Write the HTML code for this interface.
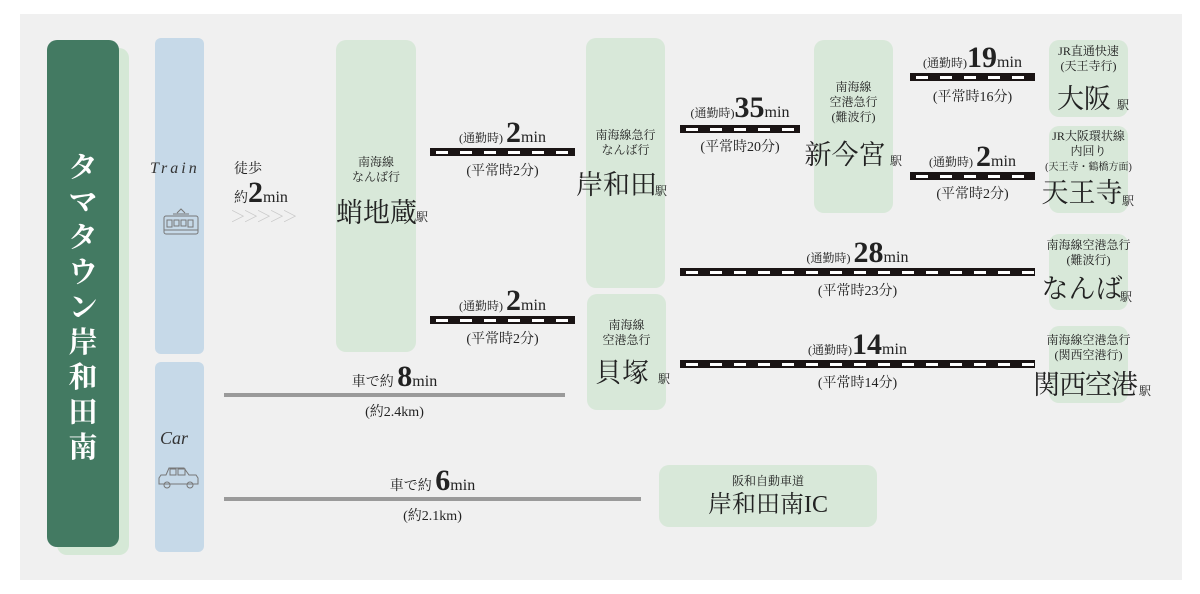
<!DOCTYPE html>
<html><head><meta charset="utf-8">
<style>
*{margin:0;padding:0;box-sizing:border-box}
body{width:1200px;height:594px;background:#fff;position:relative;overflow:hidden;font-family:"Liberation Serif","Noto Serif CJK SC","Noto Sans CJK JP",serif;color:#222}
.a{position:absolute}
.bg{left:20px;top:14px;width:1162px;height:566px;background:#f0f0f0}
.g{background:#d8e8d9;border-radius:10px;position:absolute}
.b{background:#c6d9e8;border-radius:6px;position:absolute}
.rail{position:absolute;height:8px;background:#1a1414}
.rail:after{content:"";position:absolute;left:0;right:0;top:2.5px;height:3px;background:repeating-linear-gradient(90deg,transparent 0 6px,#fff 6px 18px,transparent 18px 24px)}
.road{position:absolute;height:4px;background:#9a9a9a}
.c{position:absolute;text-align:center;white-space:nowrap}
.s{font-size:12px;line-height:15px}
.n{font-size:27px;line-height:30px}
.ek{font-size:12px}
.t{font-size:14px}
.big{font-size:30px;font-weight:bold;font-family:"Liberation Serif",serif}
.min{font-size:16px}
</style></head><body>
<div class="a bg"></div>
<div class="a" style="left:57px;top:48px;width:72px;height:507px;background:#d5e8d6;border-radius:10px"></div>
<div class="a" style="left:47px;top:40px;width:72px;height:507px;background:#437a62;border-radius:10px"></div>
<div class="c" style="left:47px;top:148px;width:72px;color:#fff;font-size:29px;line-height:35px;white-space:normal;padding:0 21px;font-weight:bold;font-family:'Noto Serif CJK SC','Noto Sans CJK JP',serif">タマタウン岸和田南</div>

<div class="b" style="left:155px;top:38px;width:49px;height:316px"></div>
<div class="b" style="left:155px;top:362px;width:49px;height:190px"></div>
<div class="c" style="left:150px;top:160px;font-family:'Liberation Serif',serif;font-style:italic;font-size:16px;letter-spacing:3px;color:#333">Train</div>
<svg class="a" style="left:163px;top:208px" width="36" height="30" viewBox="0 0 36 30" fill="none" stroke="#777" stroke-width="1"><path d="M14 5l4-4 4 4M10 6h16"/><rect x="1" y="8" width="34" height="18" rx="2"/><rect x="4" y="12" width="5" height="7"/><rect x="11" y="12" width="5" height="6"/><rect x="18" y="12" width="5" height="6"/><rect x="25" y="12" width="5" height="7"/><path d="M1 22h34"/></svg>
<div class="c" style="left:160px;top:428px;font-style:italic;font-size:18px;color:#333">Car</div>
<svg class="a" style="left:158px;top:466px" width="42" height="24" viewBox="0 0 42 24" fill="none" stroke="#777" stroke-width="1"><path d="M8 9l3-7h15l5 7h7l2 3v6H1v-6l2-3z"/><rect x="12" y="3" width="6" height="6"/><rect x="20" y="3" width="7" height="6"/><circle cx="9" cy="19" r="3"/><circle cx="32" cy="19" r="3"/></svg>

<div class="c t" style="left:234px;top:158px">徒歩</div>
<div class="c t" style="left:234px;top:176px">約<span class="big">2</span><span class="min">min</span></div>
<div class="c" style="left:230px;top:204px;color:#c8c8c8;font-size:16px;letter-spacing:-3px">＞＞＞＞＞</div>

<div class="g" style="left:336px;top:40px;width:80px;height:312px"></div>
<div class="c s" style="left:336px;top:155px;width:80px">南海線<br>なんば行</div>
<div class="c n" style="left:336px;top:198px;width:80px">蛸地蔵</div><div class="c ek" style="left:416px;top:208px">駅</div>

<div class="rail" style="left:430px;top:148px;width:145px"></div>
<div class="c" style="left:430px;top:116px;width:145px"><span class="s">(通勤時) </span><span class="big">2</span><span class="min">min</span></div>
<div class="c t" style="left:430px;top:160px;width:145px">(平常時2分)</div>
<div class="rail" style="left:430px;top:316px;width:145px"></div>
<div class="c" style="left:430px;top:284px;width:145px"><span class="s">(通勤時) </span><span class="big">2</span><span class="min">min</span></div>
<div class="c t" style="left:430px;top:328px;width:145px">(平常時2分)</div>

<div class="road" style="left:224px;top:393px;width:341px"></div>
<div class="c" style="left:224px;top:360px;width:341px"><span class="t">車で約 </span><span class="big">8</span><span class="min">min</span></div>
<div class="c t" style="left:224px;top:401px;width:341px">(約2.4km)</div>
<div class="road" style="left:224px;top:497px;width:417px"></div>
<div class="c" style="left:224px;top:464px;width:417px"><span class="t">車で約 </span><span class="big">6</span><span class="min">min</span></div>
<div class="c t" style="left:224px;top:505px;width:417px">(約2.1km)</div>

<div class="g" style="left:586px;top:38px;width:79px;height:250px"></div>
<div class="c s" style="left:586px;top:128px;width:79px">南海線急行<br>なんば行</div>
<div class="c n" style="left:576px;top:170px;width:79px">岸和田</div><div class="c ek" style="left:655px;top:182px">駅</div>
<div class="g" style="left:587px;top:294px;width:79px;height:116px"></div>
<div class="c s" style="left:587px;top:318px;width:79px">南海線<br>空港急行</div>
<div class="c n" style="left:587px;top:358px;width:70px">貝塚</div><div class="c ek" style="left:658px;top:370px">駅</div>

<div class="rail" style="left:680px;top:125px;width:120px"></div>
<div class="c" style="left:680px;top:91px;width:120px"><span class="s">(通勤時)</span><span class="big">35</span><span class="min">min</span></div>
<div class="c t" style="left:680px;top:136px;width:120px">(平常時20分)</div>

<div class="g" style="left:814px;top:40px;width:79px;height:173px"></div>
<div class="c s" style="left:814px;top:80px;width:79px">南海線<br>空港急行<br>(難波行)</div>
<div class="c n" style="left:800px;top:140px;width:90px">新今宮</div><div class="c ek" style="left:890px;top:152px">駅</div>

<div class="rail" style="left:910px;top:73px;width:125px"></div>
<div class="c" style="left:910px;top:41px;width:125px"><span class="s">(通勤時)</span><span class="big">19</span><span class="min">min</span></div>
<div class="c t" style="left:910px;top:86px;width:125px">(平常時16分)</div>
<div class="rail" style="left:910px;top:172px;width:125px"></div>
<div class="c" style="left:910px;top:140px;width:125px"><span class="s">(通勤時) </span><span class="big">2</span><span class="min">min</span></div>
<div class="c t" style="left:910px;top:183px;width:125px">(平常時2分)</div>

<div class="rail" style="left:680px;top:268px;width:355px"></div>
<div class="c" style="left:680px;top:236px;width:355px"><span class="s">(通勤時) </span><span class="big">28</span><span class="min">min</span></div>
<div class="c t" style="left:680px;top:280px;width:355px">(平常時23分)</div>
<div class="rail" style="left:680px;top:360px;width:355px"></div>
<div class="c" style="left:680px;top:328px;width:355px"><span class="s">(通勤時)</span><span class="big">14</span><span class="min">min</span></div>
<div class="c t" style="left:680px;top:372px;width:355px">(平常時14分)</div>

<div class="g" style="left:1049px;top:40px;width:79px;height:77px"></div>
<div class="c s" style="left:1049px;top:44px;width:79px">JR直通快速<br>(天王寺行)</div>
<div class="c n" style="left:1049px;top:84px;width:70px">大阪</div><div class="c ek" style="left:1117px;top:96px">駅</div>
<div class="g" style="left:1049px;top:126px;width:79px;height:87px"></div>
<div class="c s" style="left:1040px;top:129px;width:97px">JR大阪環状線<br>内回り<br><span style="font-size:10px">(天王寺・鶴橋方面)</span></div>
<div class="c n" style="left:1040px;top:178px;width:84px">天王寺</div><div class="c ek" style="left:1122px;top:192px">駅</div>
<div class="g" style="left:1049px;top:234px;width:79px;height:76px"></div>
<div class="c s" style="left:1040px;top:238px;width:97px">南海線空港急行<br>(難波行)</div>
<div class="c n" style="left:1040px;top:274px;width:84px">なんば</div><div class="c ek" style="left:1120px;top:288px">駅</div>
<div class="g" style="left:1049px;top:326px;width:79px;height:77px"></div>
<div class="c s" style="left:1040px;top:333px;width:97px">南海線空港急行<br>(関西空港行)</div>
<div class="c n" style="left:1030px;top:370px;width:110px;letter-spacing:-1px">関西空港</div><div class="c ek" style="left:1139px;top:382px">駅</div>

<div class="g" style="left:659px;top:465px;width:218px;height:62px"></div>
<div class="c s" style="left:659px;top:474px;width:218px">阪和自動車道</div>
<div class="c" style="left:659px;top:490px;width:218px;font-size:24px;line-height:30px">岸和田南IC</div>
</body></html>
